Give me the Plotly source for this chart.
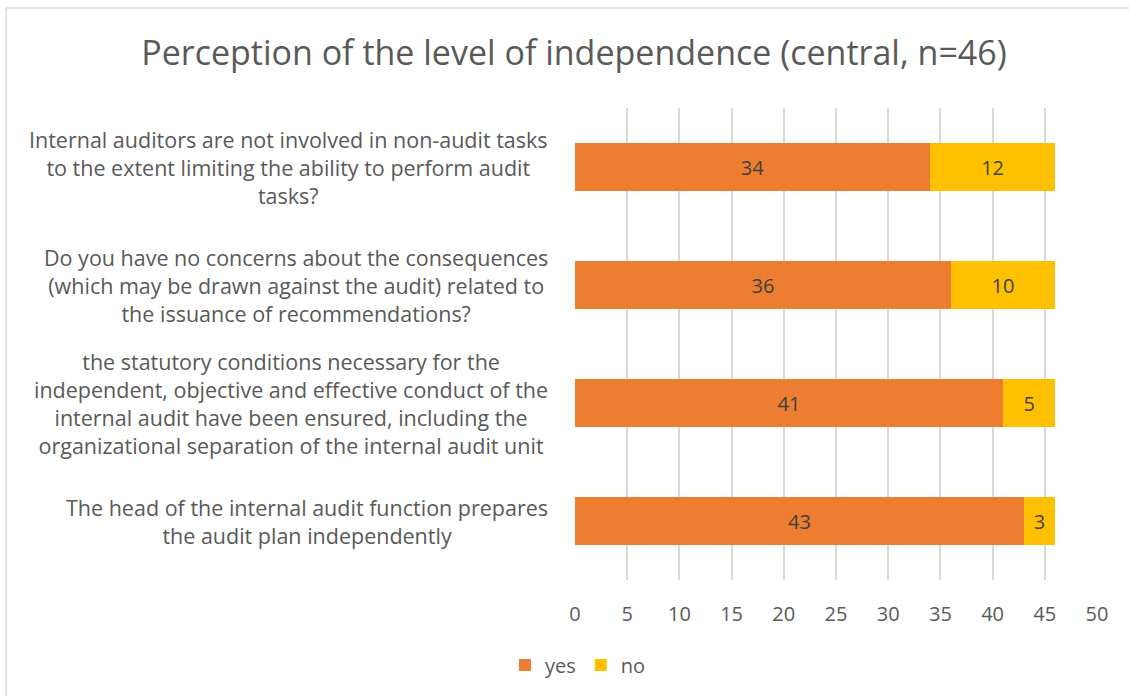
import plotly.graph_objects as go

categories = [
    "The head of the internal audit function prepares<br>the audit plan independently",
    "the statutory conditions necessary for the<br>independent, objective and effective conduct of the<br>internal audit have been ensured, including the<br>organizational separation of the internal audit unit",
    "Do you have no concerns about the consequences<br>(which may be drawn against the audit) related to<br>the issuance of recommendations?",
    "Internal auditors are not involved in non-audit tasks<br>to the extent limiting the ability to perform audit<br>tasks?",
]
yes_vals = [43, 41, 36, 34]
no_vals = [3, 5, 10, 12]
x_ticks = [0, 5, 10, 15, 20, 25, 30, 35, 40, 45, 50]

W, H = 1129, 696
L, R, T, B = 575, 32, 108, 116
FONT = "Open Sans"
GREY = "#595959"

fig = go.Figure()
fig.add_trace(go.Bar(
    y=categories, x=yes_vals, name="yes", orientation="h",
    marker=dict(color="#ED7D31", line=dict(width=0)),
    text=yes_vals, textposition="inside", insidetextanchor="middle",
    textfont=dict(family=FONT, size=20, color="#404040"),
    width=0.41,
))
fig.add_trace(go.Bar(
    y=categories, x=no_vals, name="no", orientation="h",
    marker=dict(color="#FFC000", line=dict(width=0)),
    text=no_vals, textposition="inside", insidetextanchor="middle",
    textfont=dict(family=FONT, size=20, color="#404040"),
    width=0.41,
))

for c in categories:
    fig.add_annotation(
        x=(550 - L) / (W - L - R), xref="paper", y=c, yref="y", text=c, showarrow=False,
        xanchor="right", yanchor="middle", align="center",
        font=dict(family=FONT, size=21.5, color=GREY),
    )

pw = W - L - R
ph = H - T - B
x_left = (6 - L) / pw
x_right = (W + 50 - L) / pw
y_top = 1 + (T - 8) / ph
y_bot = -(B + 50) / ph
border = dict(color="#D9D9D9", width=1.5)
fig.add_shape(type="line", xref="paper", yref="paper",
              x0=x_left, x1=x_right, y0=y_top, y1=y_top, line=border, layer="below")
fig.add_shape(type="line", xref="paper", yref="paper",
              x0=x_left, x1=x_left, y0=y_bot, y1=y_top, line=border, layer="below")

fig.update_layout(
    width=W, height=H,
    margin=dict(l=L, r=R, t=T, b=B, autoexpand=False),
    barmode="stack", bargap=0.59,
    paper_bgcolor="white", plot_bgcolor="white",
    title=dict(text="Perception of the level of independence (central, n=46)",
               x=574 / W, xref="container", xanchor="center",
               y=1 - 53 / H, yref="container", yanchor="middle",
               font=dict(family=FONT, size=34, color=GREY)),
    xaxis=dict(range=[0, 50], tickvals=x_ticks, showgrid=True, gridcolor="#D9D9D9",
               gridwidth=1.5, zeroline=False, showline=False,
               tickfont=dict(family=FONT, size=20, color=GREY),
               ticks="", ticklabelstandoff=20, fixedrange=True),
    yaxis=dict(showticklabels=False, showgrid=False, zeroline=False, showline=False,
               categoryorder="array", categoryarray=categories),
    legend=dict(orientation="h", x=578 / W, xref="container", xanchor="center",
                y=1 - 665 / H, yref="container", yanchor="middle",
                font=dict(family=FONT, size=20, color=GREY),
                traceorder="normal", itemwidth=30, tracegroupgap=0),
    showlegend=True,
)

fig.write_html("out.html")
